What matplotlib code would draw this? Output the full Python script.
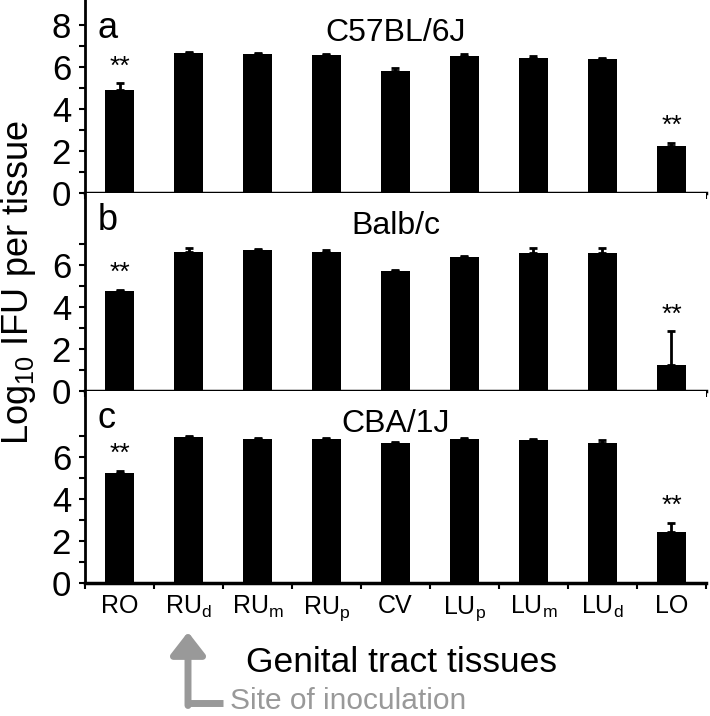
import numpy as np
import matplotlib
matplotlib.use('Agg')
import matplotlib.pyplot as plt

plt.rcParams['font.family'] = ['Liberation Sans', 'DejaVu Sans']
plt.rcParams['mathtext.fontset'] = 'custom'
plt.rcParams['mathtext.rm'] = 'Liberation Sans'
plt.rcParams['mathtext.it'] = 'Liberation Sans'

tissues = ['RO', 'RU$_\\mathrm{d}$', 'RU$_\\mathrm{m}$', 'RU$_\\mathrm{p}$', 'CV',
           'LU$_\\mathrm{p}$', 'LU$_\\mathrm{m}$', 'LU$_\\mathrm{d}$', 'LO']

strains = ['C57BL/6J', 'Balb/c', 'CBA/1J']
letters = ['a', 'b', 'c']

c57_mean = [4.9, 6.67, 6.62, 6.57, 5.81, 6.52, 6.43, 6.38, 2.24]
c57_err = [0.32, 0.05, 0.06, 0.07, 0.15, 0.1, 0.1, 0.06, 0.15]
balb_mean = [4.75, 6.62, 6.71, 6.62, 5.71, 6.38, 6.57, 6.55, 1.24]
balb_err = [0.06, 0.2, 0.05, 0.1, 0.05, 0.05, 0.25, 0.25, 1.6]
cba_mean = [5.24, 6.95, 6.86, 6.86, 6.67, 6.86, 6.83, 6.67, 2.43]
cba_err = [0.1, 0.05, 0.04, 0.05, 0.04, 0.05, 0.05, 0.15, 0.43]

means = [c57_mean, balb_mean, cba_mean]
errs = [c57_err, balb_err, cba_err]
signif = [0, 8]  # indices marked with **

W, H = 710, 716
fig = plt.figure(figsize=(W / 100, H / 100), dpi=100)

# (top pixel, zero pixel) for each panel; 21 px per log unit
panels_px = [(0, 193), (193, 391), (391, 583)]
left_px, right_px = 85, 706
px_per_unit = 21.0

x = np.arange(len(tissues))
for i, (top, zero) in enumerate(panels_px):
    ax = fig.add_axes([left_px / W, 1 - zero / H, (right_px - left_px) / W, (zero - top) / H])
    m = np.array(means[i])
    e = np.array(errs[i])
    ax.bar(x, m, width=0.41, color='black', zorder=2)
    ax.errorbar(x, m, yerr=[np.zeros_like(e), e], fmt='none', ecolor='black',
                elinewidth=2, capsize=3, capthick=2, zorder=1)
    for j in signif:
        ax.text(x[j], m[j] + e[j] + 0.8, '**', ha='center', va='center', fontsize=19)
    ax.set_xlim(-0.5, len(tissues) - 0.5)
    ax.set_ylim(0, (zero - top) / px_per_unit)
    if i == 0:
        ax.set_yticks([0, 2, 4, 6, 8])
    else:
        ax.set_yticks([0, 2, 4, 6])
    ax.set_yticks(np.arange(1, 9, 2), minor=True)
    ax.set_xticks(x)
    ax.set_xticks(np.arange(-0.5, len(tissues)), minor=True)
    if i == 2:
        ax.set_xticklabels(tissues, fontsize=18)
    else:
        ax.set_xticklabels([])
    ax.tick_params(axis='x', which='major', length=0, pad=8)
    ax.tick_params(axis='x', which='minor', length=4, width=1.5, direction='out')
    ax.tick_params(axis='y', which='both', length=4, width=1.5, direction='out', labelsize=25, pad=6)
    ax.spines['top'].set_visible(False)
    ax.spines['right'].set_visible(False)
    ax.spines['left'].set_linewidth(2)
    ax.spines['bottom'].set_linewidth(2.5)
    h = zero - top
    ax.text(0.02, 1 - 28 / h, letters[i], transform=ax.transAxes, fontsize=26, va='center', ha='left')
    ax.text(0.5, 1 - 33 / h, strains[i], transform=ax.transAxes, fontsize=23, va='center', ha='center')

fig.text(19 / W, 1 - 283 / H, 'Log$_{10}$ IFU per tissue', rotation=90,
         fontsize=26, ha='center', va='center')
fig.text(402 / W, 1 - 662 / H, 'Genital tract tissues', fontsize=25.5, ha='center', va='center')

grey = '#999999'
fig.text(230 / W, 1 - 709 / H, 'Site of inoculation', fontsize=21.5, color=grey,
         ha='left', va='baseline')
fig.add_artist(plt.Line2D([188 / W, 223 / W], [1 - 703 / H, 1 - 703 / H],
                          color=grey, lw=5, transform=fig.transFigure, solid_capstyle='butt'))
fig.patches.append(matplotlib.patches.FancyArrowPatch(
    (188 / W, 1 - 705.5 / H), (188 / W, 1 - 632 / H), transform=fig.transFigure,
    arrowstyle='-|>,head_length=9,head_width=7', mutation_scale=1.5,
    color=grey, lw=5, shrinkA=0, shrinkB=0))

fig.savefig('out.png', dpi=100)
